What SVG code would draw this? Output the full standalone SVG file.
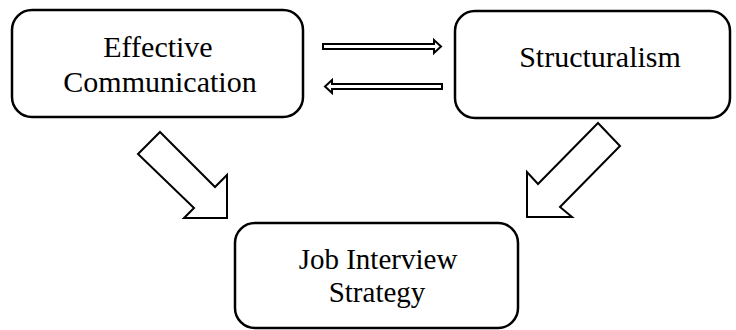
<svg xmlns="http://www.w3.org/2000/svg" width="736" height="330" viewBox="0 0 736 330">
<style>
.box{fill:#fff;stroke:#000;stroke-width:2.5}
.lbl{font-family:"Liberation Serif","Times New Roman",serif;font-size:30px;fill:#000;text-anchor:middle}
.sm{font-size:29px}
.arr{fill:#fff;stroke:#000;stroke-width:2;stroke-linejoin:miter}
</style>
<rect width="736" height="330" fill="#fff"/>
<g id="connectors">
<polygon class="arr" points="323,44 434,44 434,40 441,46.5 434,53 434,49 323,49"/>
<polygon class="arr" points="442,84 332,84 332,80 325,86.5 332,93 332,89 442,89"/>
<polygon class="arr" points="160,132 215,187 227,175 227,218 184,218 194,208 138,154"/>
<polygon class="arr" points="598,123 620,146 560,207 572,217 527,217 527,172 538,184"/>
</g>
<g id="effective-communication">
<rect class="box" x="12" y="10" width="291" height="107" rx="20"/>
<text class="lbl"><tspan x="158" y="57">Effective</tspan><tspan x="160" y="92">Communication</tspan></text>
</g>
<g id="structuralism">
<rect class="box" x="455" y="11" width="275" height="107" rx="20"/>
<text class="lbl" x="600" y="67">Structuralism</text>
</g>
<g id="job-interview-strategy">
<rect class="box" x="235" y="223" width="283" height="105" rx="20"/>
<text class="lbl sm"><tspan x="378" y="269">Job Interview</tspan><tspan x="377" y="302">Strategy</tspan></text>
</g>
</svg>
